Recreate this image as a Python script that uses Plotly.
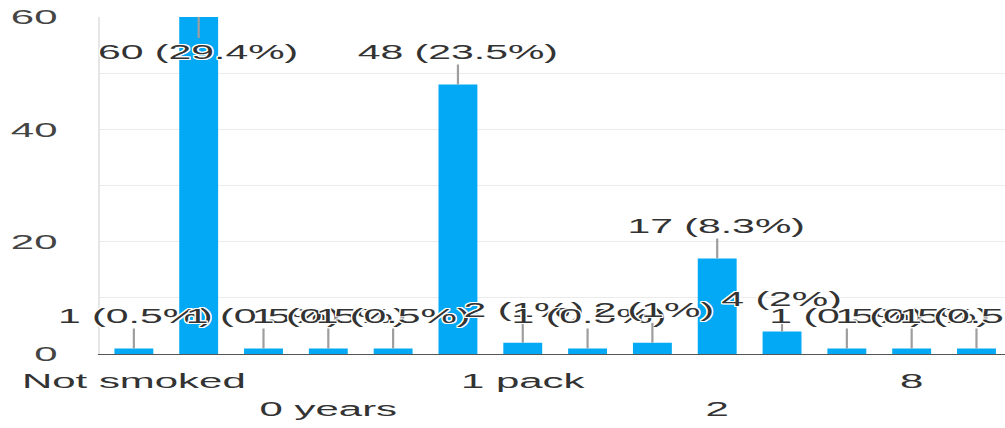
import plotly.graph_objects as go

# ---- data ----
tick_labels = ["Not smoked", "", "", "0 years", "", "", "1 pack", "", "", "2", "", "", "8", ""]
counts = [1, 60, 1, 1, 1, 48, 2, 1, 2, 17, 4, 1, 1, 1]
total_responses = 204
y_ticks = [0, 20, 40, 60]

# ---- styling ----
STRETCH = 1005 / 503          # reference image is stretched horizontally
BAR = "#03a9f4"
FONT = "Liberation Sans, Arial, sans-serif"
HALO = ("1px 0 0 #fff, -1px 0 0 #fff, 0 2px 0 #fff, 0 -2px 0 #fff, "
        "1px 2px 0 #fff, -1px -2px 0 #fff, 1px -2px 0 #fff, -1px 2px 0 #fff")

xs = list(range(len(counts)))
ymax = max(y_ticks)


def pct_text(v):
    p = round(v / total_responses * 100, 1)
    s = f"{p:.1f}".rstrip("0").rstrip(".")
    return f"{v} ({s}%)"


fig = go.Figure(go.Bar(x=xs, y=counts, marker=dict(color=BAR, line=dict(width=0))))

annotations = []
for x, v in zip(xs, counts):
    at_top = v >= ymax
    annotations.append(dict(
        x=x, y=v, xref="x", yref="y", text=pct_text(v),
        showarrow=True, arrowhead=0, arrowwidth=1.1, arrowcolor="#9e9e9e",
        ax=0, ay=34 if at_top else -33, standoff=0,
        font=dict(family=FONT, size=20.5, color="#333333", shadow=HALO),
    ))

shown = [i for i, t in enumerate(tick_labels) if t]
ticktext = [t if k % 2 == 0 else "\u00a0<br>" + t for k, t in enumerate([tick_labels[i] for i in shown])]

fig.update_layout(
    width=503, height=428,
    margin=dict(l=50, r=0, t=17, b=74, pad=0),
    paper_bgcolor="white", plot_bgcolor="white",
    bargap=0.4, showlegend=False,
    annotations=annotations,
    font=dict(family=FONT, color="#444444"),
    xaxis=dict(
        range=[-0.524, 13.44], tickvals=shown, ticktext=ticktext,
        showgrid=False, zeroline=False, showline=True, linecolor="#555555", linewidth=1.2,
        ticks="", tickfont=dict(size=21, color="#333333"), ticklabelstandoff=8,
    ),
    yaxis=dict(
        range=[0, ymax], tickvals=y_ticks, showgrid=True, gridcolor="#ebebeb", gridwidth=1,
        minor=dict(dtick=10, showgrid=True, gridcolor="#ebebeb", gridwidth=1),
        zeroline=False, showline=True, linecolor="#e6e6e6", linewidth=1,
        ticks="", tickfont=dict(size=21, color="#444444"), ticklabelstandoff=16,
    ),
)

post = (
    "document.documentElement.style.margin='0';document.body.style.margin='0';"
    "var gd=document.getElementById('{plot_id}');"
    "gd.style.transformOrigin='0 0';"
    "gd.style.transform='scaleX(" + f"{STRETCH:.5f}" + ")';"
)

fig.write_html("out.html", post_script=post)
